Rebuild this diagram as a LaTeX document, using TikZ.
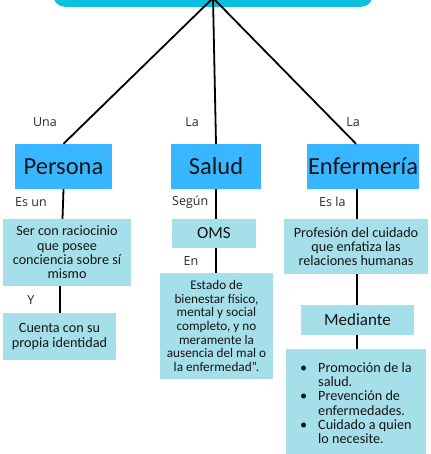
\documentclass[tikz,border=0pt]{standalone}
\usepackage{fontspec}
\setmainfont{Carlito}
\newfontfamily\lblfont{Open Sans}
\usetikzlibrary{calc}
\definecolor{topc}{HTML}{0CC0DF}
\definecolor{headc}{HTML}{38B6FF}
\definecolor{boxc}{HTML}{A5DFEA}
\definecolor{txtc}{HTML}{151515}
\definecolor{lblc}{HTML}{2A2A2A}
\tikzset{
  headbox/.style={fill=headc, inner sep=0pt, text=txtc, font={\fontsize{24.5}{26}\selectfont}},
  infobox/.style={fill=boxc, inner sep=0pt, text=txtc, align=center, font={\fontsize{14.2}{14.3}\selectfont}},
  titlebox/.style={fill=boxc, inner sep=0pt, text=txtc, font={\fontsize{17}{18}\selectfont}},
  lbl/.style={inner sep=0pt, text=lblc, font={\lblfont\fontsize{12.5}{13}\selectfont}},
  conn/.style={draw=black, line width=1.8pt}
}
\begin{document}
\begin{tikzpicture}[x=1pt,y=-1pt]
\useasboundingbox (0,0) rectangle (430,454);
\clip (0,0) rectangle (430,454);
\fill[white] (0,0) rectangle (430,454);
% top box
\node[fill=topc, rounded corners=12pt, minimum width=320pt, minimum height=40pt, anchor=south, inner sep=0pt] (top) at (213,7) {};
\coordinate (hub) at (213,-2);
% heads
\node[headbox, minimum width=97pt, minimum height=45pt] (persona) at (63.5,166.5) {Persona};
\node[headbox, minimum width=90pt, minimum height=45pt] (salud) at (216,166.5) {Salud};
\node[headbox, minimum width=112pt, minimum height=45pt] (enf) at (363,166.5) {Enfermería};
% persona column
\node[infobox, minimum width=128pt, minimum height=67pt] (ser) at (67,252.5) {Ser con raciocinio\\que posee\\conciencia sobre sí\\mismo};
\node[infobox, minimum width=113pt, minimum height=47pt] (cuenta) at (59.5,336.5) {Cuenta con su\\propia identidad};
% salud column
\node[titlebox, minimum width=84pt, minimum height=29pt] (oms) at (214,233.5) {OMS};
\node[infobox, minimum width=113pt, minimum height=106pt, font={\fontsize{13.2}{13.7}\selectfont}] (estado) at (216.5,326) {Estado de\\bienestar físico,\\mental y social\\completo, y no\\meramente la\\ausencia del mal o\\la enfermedad".};
% enfermeria column
\node[infobox, minimum width=144pt, minimum height=55pt] (prof) at (356,246.5) {Profesión del cuidado\\que enfatiza las\\relaciones humanas};
\node[titlebox, minimum width=113pt, minimum height=30pt] (med) at (357.5,320) {Mediante};
\node[infobox, minimum width=140pt, minimum height=108pt, align=left] (lista) at (356,403) {%
\makebox[18pt][l]{\textbullet}Promoción de la\\\hspace*{18pt}salud.\\
\makebox[18pt][l]{\textbullet}Prevención de\\\hspace*{18pt}enfermedades.\\
\makebox[18pt][l]{\textbullet}Cuidado a quien\\\hspace*{18pt}lo necesite.};
% connectors from top
\draw[conn] (hub) -- (persona.north);
\draw[conn] (hub) -- (salud.north);
\draw[conn] (hub) -- ($(enf.north)+(-7,0)$);
% column connectors
\draw[conn] (persona.south) -- ($(persona.south |- ser.north)+(-1,0)$);
\draw[conn] ($(ser.south)+(-7,0)$) -- ($(cuenta.north)+(0.5,0)$);
\draw[conn] (salud.south) -- (salud.south |- oms.north);
\draw[conn] (salud.south |- oms.south) -- (salud.south |- estado.north);
\draw[conn] ($(enf.south)+(-6,0)$) -- ($(enf.south |- prof.north)+(-6,0)$);
\draw[conn] ($(enf.south |- prof.south)+(-6,0)$) -- ($(enf.south |- med.north)+(-6,0)$);
\draw[conn] ($(enf.south |- med.south)+(-6,0)$) -- ($(enf.south |- lista.north)+(-6,0)$);
% labels
\node[lbl] (l1) at (45,122) {Una};
\node[lbl] (l2) at (192,122) {La};
\node[lbl] (l3) at (353,122) {La};
\node[lbl, anchor=west] (l4) at (15,202) {Es un};
\node[lbl, anchor=west] (l5) at (172,202) {Según};
\node[lbl, anchor=west] (l6) at (319,202) {Es la};
\node[lbl] (l7) at (31,300) {Y};
\node[lbl] (l8) at (191,261) {En};
\end{tikzpicture}
\end{document}
